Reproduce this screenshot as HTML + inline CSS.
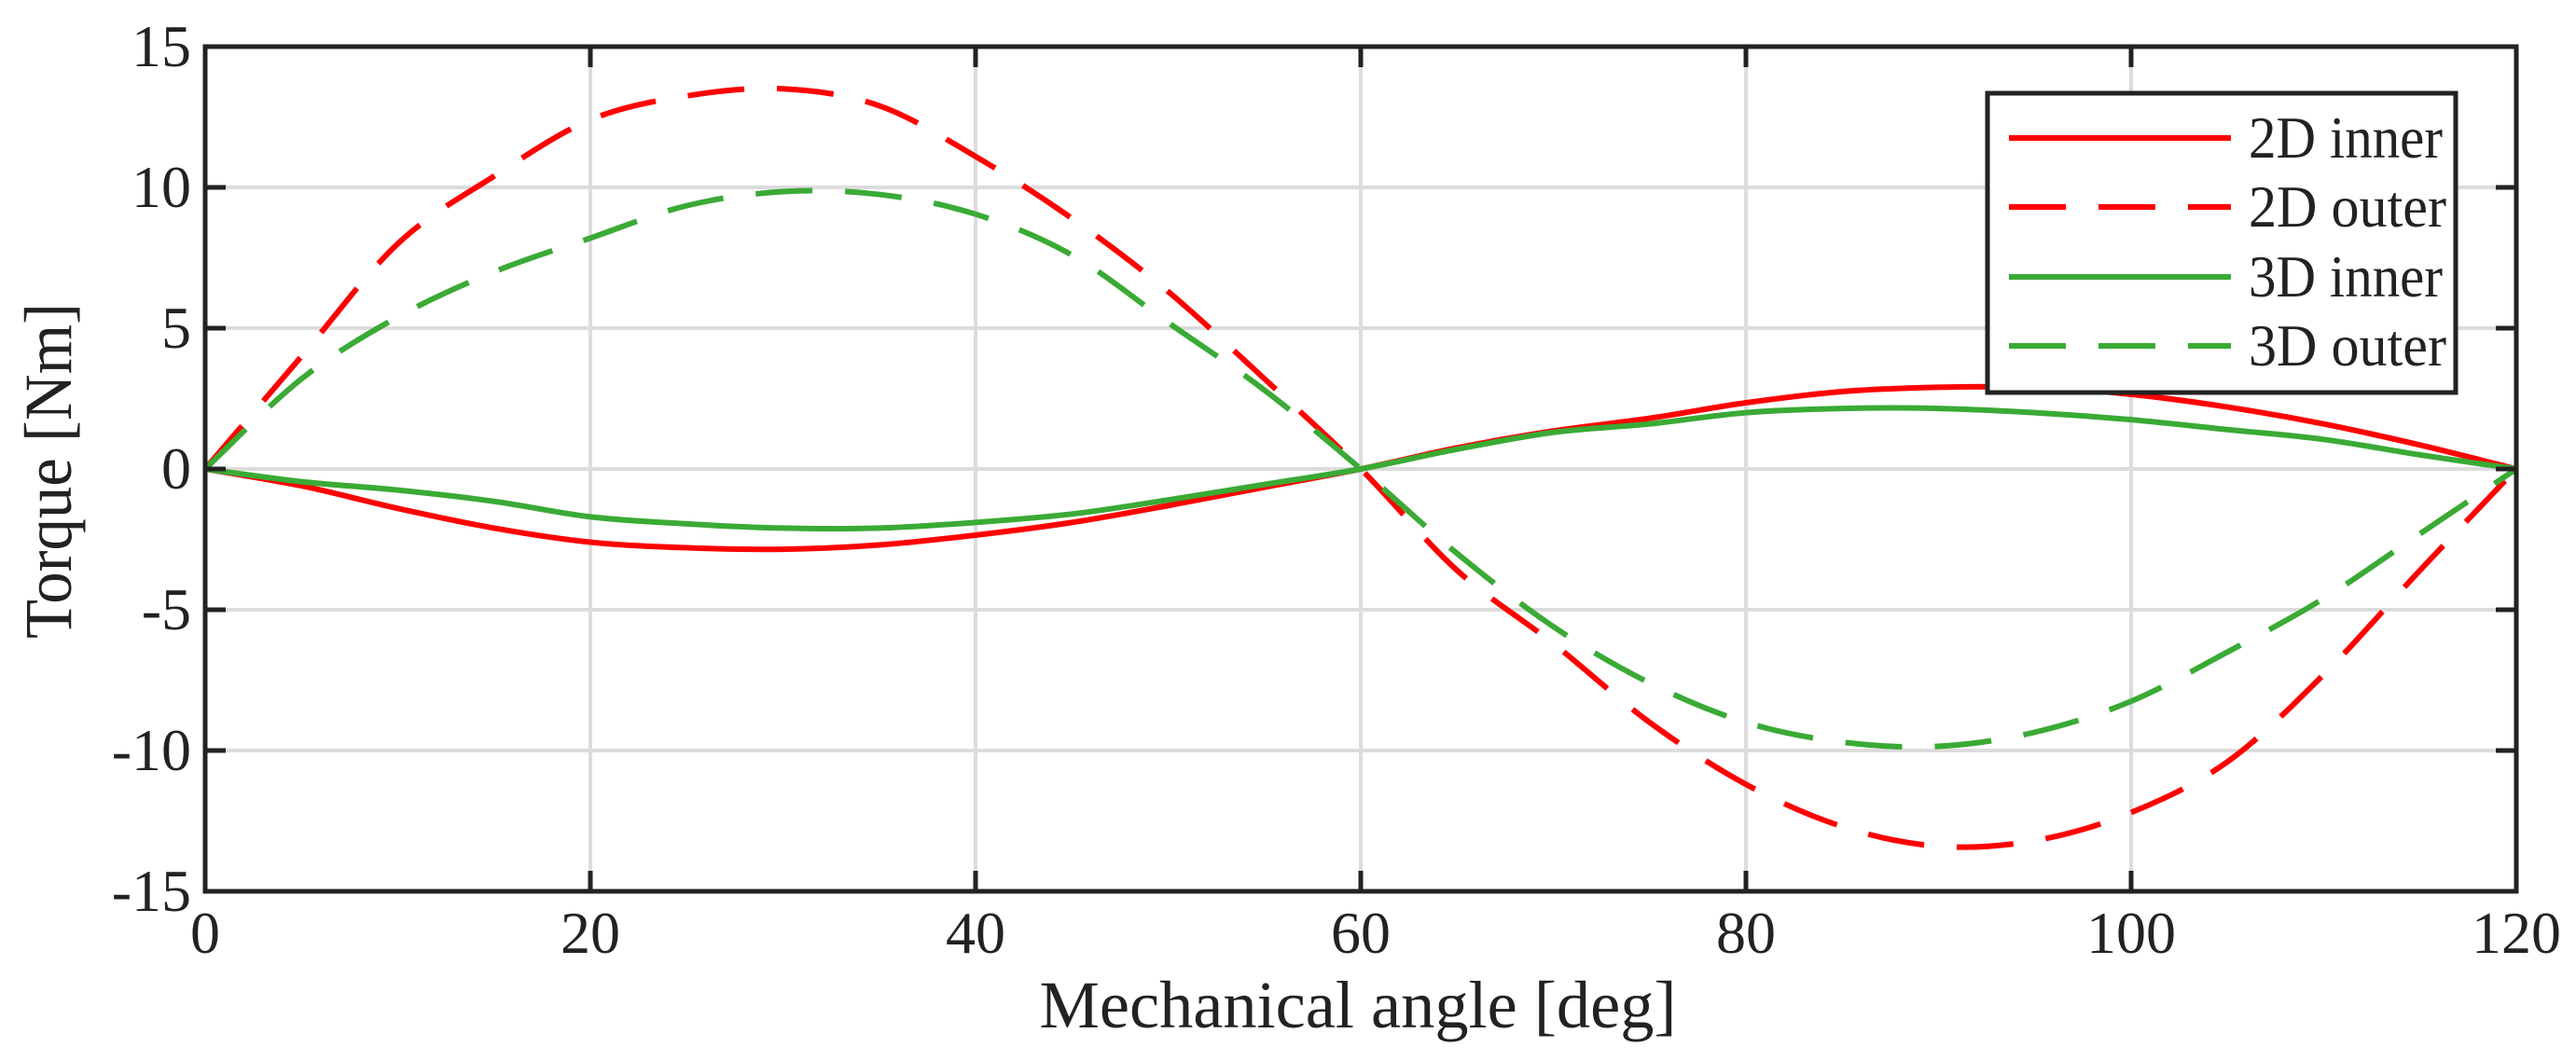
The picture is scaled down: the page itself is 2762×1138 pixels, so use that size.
<!DOCTYPE html>
<html><head><meta charset="utf-8">
<style>
html,body{margin:0;padding:0;background:#fff;}
svg{display:block;font-family:"Liberation Serif",serif;}
</style></head>
<body>
<svg id="chart" width="2762" height="1138" viewBox="0 0 2762 1138">
<rect x="0" y="0" width="2762" height="1138" fill="#fff"/>
<g id="grid"></g>
<g id="series"></g>
<g id="axes"></g>
<text x="1456" y="1102" font-size="72" text-anchor="middle" textLength="683" lengthAdjust="spacingAndGlyphs" fill="#222">Mechanical angle [deg]</text>
<text transform="translate(76,505) rotate(-90)" font-size="72" text-anchor="middle" textLength="360" lengthAdjust="spacingAndGlyphs" fill="#222">Torque [Nm]</text>
<g id="legend"></g>
</svg>
<script>
const angles = [0,5,10,15,20,25,30,35,40,45,50,55,60,65,70,75,80,85,90,95,100,105,110,115,120];
const inner2D = [0,-0.6,-1.4,-2.1,-2.6,-2.8,-2.85,-2.7,-2.35,-1.9,-1.3,-0.65,0,0.75,1.35,1.8,2.35,2.75,2.9,2.9,2.65,2.2,1.6,0.85,0];
const outer2D = [0,4.0,8.0,10.4,12.4,13.25,13.5,12.9,11.1,8.9,6.3,3.2,0,-3.6,-6.2,-9.0,-11.2,-12.7,-13.4,-13.2,-12.2,-10.4,-7.3,-3.6,0];
const inner3D = [0,-0.45,-0.75,-1.15,-1.7,-1.95,-2.1,-2.1,-1.9,-1.6,-1.1,-0.55,0,0.7,1.3,1.6,2.0,2.15,2.15,2.0,1.75,1.4,1.05,0.5,0];
const outer3D = [0,3.2,5.4,7.0,8.2,9.35,9.85,9.75,9.05,7.6,5.2,2.8,0,-3.0,-5.6,-7.6,-9.0,-9.7,-9.85,-9.35,-8.25,-6.5,-4.6,-2.3,0];
const xTicks = [0,20,40,60,80,100,120];
const yTicks = [-15,-10,-5,0,5,10,15];
const seriesNames = ["2D inner","2D outer","3D inner","3D outer"];

const X0=220,X1=2698,Y0=956,Y1=50,XMIN=0,XMAX=120,YMIN=-15,YMAX=15;
const sx=v=>X0+(v-XMIN)/(XMAX-XMIN)*(X1-X0);
const sy=v=>Y0-(v-YMIN)/(YMAX-YMIN)*(Y0-Y1);
const NS="http://www.w3.org/2000/svg";
function mk(tag,attrs,parent){const e=document.createElementNS(NS,tag);for(const k in attrs)e.setAttribute(k,attrs[k]);parent.appendChild(e);return e;}
const grid=document.getElementById('grid'),axes=document.getElementById('axes'),ser=document.getElementById('series'),leg=document.getElementById('legend');

xTicks.forEach(t=>{
  const l=mk('line',{x1:sx(t),x2:sx(t),y1:Y1,y2:Y0,stroke:'#dcdcdc','stroke-width':4},grid);
  
  
  mk('line',{x1:sx(t),x2:sx(t),y1:Y0,y2:Y0-22,stroke:'#222','stroke-width':5},axes);
  mk('line',{x1:sx(t),x2:sx(t),y1:Y1,y2:Y1+22,stroke:'#222','stroke-width':5},axes);
  const tx=mk('text',{x:sx(t),y:1022,'font-size':64,'text-anchor':'middle',fill:'#222'},axes);
  tx.textContent=t;
  
  
});
yTicks.forEach(t=>{
  const l=mk('line',{x1:X0,x2:X1,y1:sy(t),y2:sy(t),stroke:'#dcdcdc','stroke-width':4},grid);
  
  
  mk('line',{x1:X0,x2:X0+22,y1:sy(t),y2:sy(t),stroke:'#222','stroke-width':5},axes);
  mk('line',{x1:X1,x2:X1-22,y1:sy(t),y2:sy(t),stroke:'#222','stroke-width':5},axes);
  const tx=mk('text',{x:205,y:sy(t)+21,'font-size':64,'text-anchor':'end',fill:'#222'},axes);
  tx.textContent=t;
  
  
});
const frame=mk('rect',{x:X0,y:Y1,width:X1-X0,height:Y0-Y1,fill:'none',stroke:'#222','stroke-width':5},axes);



function pathFrom(vals){
  const p=angles.map((a,i)=>[sx(a),sy(vals[i])]);
  let d=`M${p[0][0]},${p[0][1]}`;
  for(let i=0;i<p.length-1;i++){
    const p0=p[Math.max(0,i-1)],p1=p[i],p2=p[i+1],p3=p[Math.min(p.length-1,i+2)];
    const c1=[p1[0]+(p2[0]-p0[0])/6,p1[1]+(p2[1]-p0[1])/6];
    const c2=[p2[0]-(p3[0]-p1[0])/6,p2[1]-(p3[1]-p1[1])/6];
    d+=` C${c1[0]},${c1[1]} ${c2[0]},${c2[1]} ${p2[0]},${p2[1]}`;
  }
  return d;
}
const styles=[
  {vals:inner2D,color:'#ff0000',dash:'none'},
  {vals:outer2D,color:'#ff0000',dash:'61 35'},
  {vals:inner3D,color:'#3aaa35',dash:'none'},
  {vals:outer3D,color:'#3aaa35',dash:'61 35'}
];
const names=['line-2d-inner','line-2d-outer','line-3d-inner','line-3d-outer'];
styles.forEach((s,i)=>{
  const e=mk('path',{d:pathFrom(s.vals),fill:'none',stroke:s.color,'stroke-width':6,'stroke-dasharray':s.dash},ser);
  
  
});

const box=mk('rect',{x:2131,y:100,width:502,height:321,fill:'#fff',stroke:'#222','stroke-width':5},leg);


const rowY=[148,222,297,371];
const textLens=[208,212,208,212];
styles.forEach((s,i)=>{
  const g=mk('g',{},leg);
  
  
  mk('line',{x1:2154,x2:2392,y1:rowY[i],y2:rowY[i],stroke:s.color,'stroke-width':6,'stroke-dasharray':s.dash==='none'?'none':'61 35'},g);
  const t=mk('text',{x:2411,y:rowY[i]+21,'font-size':64,fill:'#222',textLength:textLens[i],lengthAdjust:'spacingAndGlyphs'},g);
  t.textContent=seriesNames[i];
});
</script>
</body></html>
